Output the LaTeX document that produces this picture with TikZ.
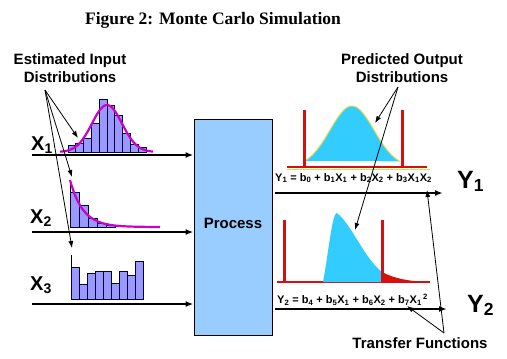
\documentclass[tikz,border=0pt]{standalone}
\usepackage{fontspec}
\setmainfont{Liberation Sans}
\newfontfamily\titlefont{Liberation Serif}
\usetikzlibrary{arrows.meta}
\definecolor{procblue}{RGB}{153,204,255}
\definecolor{barblue}{RGB}{153,153,255}
\definecolor{fitpink}{RGB}{204,0,204}
\definecolor{outcyan}{RGB}{51,204,255}
\definecolor{limred}{RGB}{215,15,15}
\definecolor{edgeyellow}{RGB}{225,225,70}
\begin{document}
\begin{tikzpicture}[x=1pt,y=-1pt,
 lbl/.style={font=\bfseries\fontsize{15}{18}\selectfont,align=center,inner sep=0pt},
 var/.style={font=\bfseries\fontsize{20}{20}\selectfont,inner sep=0pt,anchor=base west},
 outvar/.style={font=\bfseries\fontsize{25}{25}\selectfont,inner sep=0pt,anchor=base west},
 eqn/.style={font=\bfseries\fontsize{11}{12}\selectfont,inner sep=0pt,anchor=west},
 axis/.style={line width=2pt,-{Latex[length=8pt,width=6pt]}},
 pointer/.style={line width=0.8pt,-{Latex[length=7pt,width=5pt]}},
 bar/.style={draw=black!80!blue,fill=barblue,line width=0.9pt},
 fit/.style={draw=fitpink,line width=2.2pt},
 limit/.style={draw=limred,line width=3pt}]
\useasboundingbox (0,0) rectangle (507,359);

\node[font=\titlefont\bfseries\fontsize{17.5}{20}\selectfont] (title) at (213,20) {Figure 2: Monte Carlo Simulation};

\node[draw,fill=procblue,line width=1pt,minimum width=78pt,minimum height=216pt] (proc) at (233,227) {};
\node[lbl] (proclbl) at ([yshift=4pt]proc.center) {Process};

\node[lbl] (est) at (70,68) {Estimated Input\\Distributions};
\node[lbl] (pred) at (402,68) {Predicted Output\\Distributions};
\node[lbl] (trf) at (420,343) {Transfer Functions};

% inputs
\node[var] (x1) at (31,150) {X\textsubscript{1}};
\node[var] (x2) at (30,223) {X\textsubscript{2}};
\node[var] (x3) at (30,290) {X\textsubscript{3}};
\coordinate (x1s) at (32,155);
\coordinate (x2s) at (32,232);
\coordinate (x3s) at (32,304);
\draw[axis] (x1s) -- (x1s -| proc.west);
\draw[axis] (x2s) -- (x2s -| proc.west);
\draw[axis] (x3s) -- (x3s -| proc.west);

\foreach \top [count=\i from 0] in {145,143,138,123,99,105,115,133,144,147}
 \draw[bar] ({68+7.8*\i},152) rectangle ({75.8+7.8*\i},\top);
\draw[fit] plot[domain=60:153,samples=80,smooth] (\x,{152-47*exp(((\x-107)^2)/(-450))});

\draw[line width=0.9pt] (70,184) -- (70,227);
\foreach \top [count=\i from 0] in {192,205,218,223,225}
 \draw[bar] ({70+9*\i},227) rectangle ({79+9*\i},\top);
\draw[fit] plot[domain=70:160,samples=60,smooth] (\x,{227-47*exp((\x-70)/(-13))});

\draw[line width=0.9pt] (71,255) -- (71,299);
\foreach \top [count=\i from 0] in {267,284,273,271,271,283,271,275,261}
 \draw[bar] ({71+8.1*\i},299) rectangle ({79.1+8.1*\i},\top);

% outputs
\draw[edgeyellow,line width=1pt] (287,169) -- (430,169);
\draw[limit,line width=2.5pt] (287,167) -- (427,167);
\fill[outcyan] plot[domain=305:400,samples=80,smooth] (\x,{167-61*exp(((\x-352)^2)/(-968))}) -- cycle;
\draw[edgeyellow,line width=1pt] plot[domain=305:400,samples=80,smooth] (\x,{167-61*exp(((\x-352)^2)/(-968))});
\draw[limit] (304,110) -- (304,167);
\draw[limit] (402,110) -- (402,167);

\draw[limit,line width=2.5pt] (277,282) -- (430,282);
\fill[outcyan] (323,282) .. controls (329,250) and (332,213) .. (337,213) .. controls (352,225) and (364,258) .. (382,272) -- (382,282) -- cycle;
\fill[limred] (382,272) .. controls (395,279) and (410,281) .. (425,282) -- (382,282) -- cycle;
\draw[limit] (284,220) -- (284,282);
\draw[limit] (382,220) -- (382,282);

\node[eqn] (f1) at (275,178) {Y\textsubscript{1} = b\textsubscript{0} + b\textsubscript{1}X\textsubscript{1} + b\textsubscript{2}X\textsubscript{2} + b\textsubscript{3}X\textsubscript{1}X\textsubscript{2}};
\node[eqn] (f2) at (277,300) {Y\textsubscript{2} = b\textsubscript{4} + b\textsubscript{5}X\textsubscript{1} + b\textsubscript{6}X\textsubscript{2} + b\textsubscript{7}X\textsubscript{1}\textsuperscript{\,2}};

\node[outvar] (y1) at (457,188) {Y\textsubscript{1}};
\node[outvar] (y2) at (467,312) {Y\textsubscript{2}};
\coordinate (y1s) at (275,193);
\coordinate (y1e) at (443,193);
\coordinate (y2s) at (275,309);
\coordinate (y2e) at (447,309);
\draw[axis] (y1s) -- (y1e);
\draw[axis] (y2s) -- (y2e);

% pointers
\coordinate (estfoot) at (45,90);
\coordinate (tipx1) at (78,138);
\coordinate (tipx2) at (72,177);
\coordinate (tipx3) at (72,248);
\draw[pointer] (estfoot) -- (tipx1);
\draw[pointer] (estfoot) -- (tipx2);
\draw[pointer] (estfoot) -- (tipx3);

\coordinate (predfoot) at (398,87);
\coordinate (tipy1) at (375,123);
\coordinate (tipy2) at (355,230);
\draw[pointer] (predfoot) -- (tipy1);
\draw[pointer] (predfoot) -- (tipy2);

\coordinate (trffoot) at (444,333);
\coordinate (tipf1) at (427,190);
\coordinate (tipf2) at (407,306);
\draw[pointer] (trffoot) -- (tipf1);
\draw[pointer] (trffoot) -- (tipf2);
\end{tikzpicture}
\end{document}
